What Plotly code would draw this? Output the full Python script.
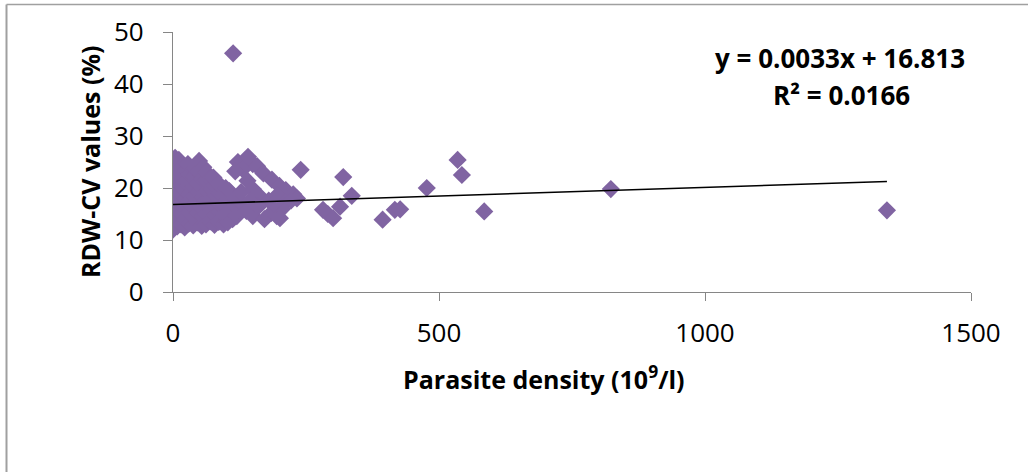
import plotly.graph_objects as go

# ---- data ----
parasite_density = [
    0, 2, 1, 3, 0, 2, 1, 0, 3, 2, 4,
    8, 9, 7, 10, 8, 9, 7, 11,
    15, 16, 14, 17, 15, 16, 18,
    22, 23, 21, 24, 22, 23, 25,
    30, 31, 29, 32, 30, 31, 28,
    38, 39, 37, 40, 38, 39, 41,
    46, 47, 45, 48, 46, 47, 49,
    54, 55, 53, 56, 54, 55, 57,
    62, 63, 61, 64, 62, 63,
    70, 71, 69, 72, 70,
    78, 79, 77, 80, 78, 76,
    86, 87, 85, 88, 86,
    95, 96, 94, 97, 99,
    103, 104, 102, 106,
    112, 113, 120, 124, 116,
    122, 141, 150, 131, 117, 158, 170, 186, 200, 212, 226, 233,
    140, 150, 165, 180, 196, 210, 222,
    130, 138, 150, 160, 172, 185, 195, 205, 128, 201, 145, 190,
    240, 320, 336, 282, 291, 301, 314, 394, 417, 427, 477, 535, 543, 585,
    823, 1342, 113,
]
rdw_cv = [
    12.0, 13.5, 14.8, 15.6, 17.0, 18.2, 19.5, 21.0, 22.4, 24.0, 25.8,
    12.6, 14.2, 16.0, 17.5, 19.8, 21.5, 23.0, 25.4,
    13.0, 15.0, 16.8, 18.6, 20.5, 22.0, 24.2,
    12.4, 14.0, 16.2, 18.0, 19.6, 21.2, 23.4,
    13.2, 15.4, 17.2, 19.0, 20.8, 22.6, 24.6,
    12.8, 14.4, 16.6, 18.4, 20.2, 22.2, 23.8,
    13.4, 15.2, 17.0, 19.2, 21.0, 23.2, 25.2,
    12.7, 14.6, 16.4, 18.2, 20.0, 21.8, 24.0,
    13.0, 15.0, 17.4, 19.4, 21.4, 23.0,
    13.6, 15.6, 17.8, 19.8, 21.8,
    12.9, 14.8, 16.6, 18.6, 20.6, 22.0,
    13.5, 15.4, 17.2, 19.0, 20.8,
    13.0, 14.8, 16.8, 18.8, 20.0,
    13.4, 15.6, 17.4, 19.4,
    14.0, 16.2, 14.6, 15.8, 18.0,
    25.0, 26.0, 24.6, 23.6, 23.2, 24.2, 22.8, 21.6, 20.4, 19.6, 18.8, 18.0,
    21.4, 19.8, 18.2, 17.6, 18.6, 17.2, 17.6,
    17.0, 15.6, 14.6, 16.4, 14.0, 15.2, 14.6, 16.0, 19.2, 14.2, 17.6, 17.0,
    23.5, 22.1, 18.5, 15.8, 15.0, 14.2, 16.4, 13.9, 15.8, 15.9, 20.0, 25.4, 22.5, 15.5,
    19.8, 15.7, 45.9,
]

trend_slope = 0.0033
trend_intercept = 16.813
r_squared = 0.0166

x_ticks = [0, 500, 1000, 1500]
y_ticks = [0, 10, 20, 30, 40, 50]

# ---- layout geometry (reference pixel positions) ----
W, H = 1028, 472
PLOT_L, PLOT_R, PLOT_T, PLOT_B = 173, 971, 32, 292
L, T, R, B = PLOT_L, PLOT_T, W - PLOT_R, H - PLOT_B
PW, PH = PLOT_R - PLOT_L, PLOT_B - PLOT_T


def px_x(p):
    return (p - PLOT_L) / PW


def px_y(p):
    return (PLOT_B - p) / PH


FONT = "Open Sans"
AXIS_GRAY = "#868686"
PURPLE = "#8064A2"

fig = go.Figure()

fig.add_trace(go.Scatter(
    x=parasite_density, y=rdw_cv, mode="markers",
    marker=dict(symbol="diamond", size=14, color=PURPLE, line=dict(width=0)),
    showlegend=False, hoverinfo="x+y",
))

x0, x1 = min(parasite_density), max(parasite_density)
fig.add_trace(go.Scatter(
    x=[x0, x1],
    y=[trend_intercept + trend_slope * x0, trend_intercept + trend_slope * x1],
    mode="lines", line=dict(color="black", width=1.6),
    showlegend=False, hoverinfo="skip",
))

fig.update_layout(
    width=W, height=H,
    margin=dict(l=L, r=R, t=T, b=B, pad=0),
    paper_bgcolor="white", plot_bgcolor="white",
    font=dict(family=FONT, color="black"),
    xaxis=dict(
        range=[0, 1500], tickvals=x_ticks, ticktext=[str(v) for v in x_ticks],
        showgrid=False, zeroline=False, showline=True, linecolor=AXIS_GRAY, linewidth=1.3,
        ticks="outside", ticklen=8, tickcolor=AXIS_GRAY, tickwidth=1.3,
        tickfont=dict(size=26, family=FONT, color="black"), ticklabelstandoff=10,
    ),
    yaxis=dict(
        range=[0, 50], tickvals=y_ticks, ticktext=[str(v) for v in y_ticks],
        showgrid=False, zeroline=False, showline=True, linecolor=AXIS_GRAY, linewidth=1.3,
        ticks="outside", ticklen=9, tickcolor=AXIS_GRAY, tickwidth=1.3,
        tickfont=dict(size=26, family=FONT, color="black"), ticklabelstandoff=14,
    ),
)

annotations = [
    dict(text="<b>RDW-CV values (%)</b>", textangle=-90,
         x=px_x(90), y=px_y(162), xref="paper", yref="paper",
         xanchor="center", yanchor="middle", showarrow=False,
         font=dict(size=25, family=FONT, color="black")),
    dict(text="<b>Parasite density (10<sup>9</sup>/l)</b>",
         x=px_x(544), y=px_y(377), xref="paper", yref="paper",
         xanchor="center", yanchor="middle", showarrow=False,
         font=dict(size=25, family=FONT, color="black")),
    dict(text=f"<b>y = {trend_slope}x + {trend_intercept}</b>",
         x=px_x(840), y=px_y(58), xref="paper", yref="paper",
         xanchor="center", yanchor="middle", showarrow=False,
         font=dict(size=26, family=FONT, color="black")),
    dict(text=f"<b>R² = {r_squared}</b>",
         x=px_x(841), y=px_y(95), xref="paper", yref="paper",
         xanchor="center", yanchor="middle", showarrow=False,
         font=dict(size=26, family=FONT, color="black")),
]
fig.update_layout(annotations=annotations)

# chart-area frame (top and left edges visible in the reference)
fig.add_shape(type="line", xref="paper", yref="paper",
              x0=px_x(6.5), x1=px_x(W + 2), y0=px_y(4.5), y1=px_y(4.5),
              line=dict(color="#A0A0A0", width=1.5))
fig.add_shape(type="line", xref="paper", yref="paper",
              x0=px_x(6.5), x1=px_x(6.5), y0=px_y(4.5), y1=px_y(H + 2),
              line=dict(color="#A0A0A0", width=2))

# remove the browser's default 8px page margin so the figure sits at (0, 0)
fig.write_html("out.html", config={"displayModeBar": False},
               post_script="document.body.style.margin='0';document.body.style.overflow='hidden';")
